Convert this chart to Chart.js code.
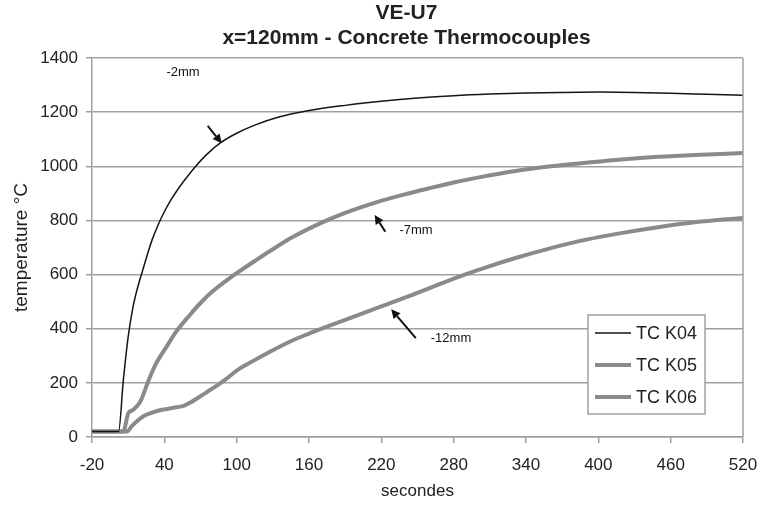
<!DOCTYPE html>
<html>
<head>
<meta charset="utf-8">
<script src="https://cdn.jsdelivr.net/npm/chart.js@4.4.1/dist/chart.umd.min.js"></script>
<style>
  html, body { margin: 0; padding: 0; background: #fff; }
  #wrap { width: 760px; height: 506px; }
</style>
</head>
<body>
<div id="wrap"><canvas id="chart"></canvas></div>
<script>
// --- data ---
const titleLines = ['VE-U7', 'x=120mm - Concrete Thermocouples'];
const xTicks = [-20, 40, 100, 160, 220, 280, 340, 400, 460, 520];
const yTicks = [0, 200, 400, 600, 800, 1000, 1200, 1400];

const k04X = [-20, 2, 6, 10, 14, 18, 22, 26, 30, 35, 40, 45, 50, 57, 65, 75, 87, 100, 115, 135, 160, 190, 220, 250, 280, 310, 340, 370, 400, 430, 460, 490, 520];
const k04Y = [20, 20, 210, 370, 480, 555, 615, 675, 730, 785, 832, 872, 907, 950, 995, 1043, 1088, 1122, 1152, 1182, 1206, 1225, 1240, 1252, 1261, 1267, 1271, 1273, 1274, 1273, 1270, 1266, 1262];

const k05X = [-20, 6, 10, 14, 20, 27, 33, 42, 50, 61, 70, 80, 90, 100, 115, 128, 145, 171, 190, 215, 240, 259, 280, 302, 330, 361, 390, 419, 450, 480, 520];
const k05Y = [20, 20, 87, 100, 130, 210, 270, 335, 390, 450, 495, 538, 573, 605, 650, 688, 735, 793, 828, 866, 897, 918, 940, 960, 982, 1000, 1013, 1025, 1035, 1042, 1049];

const k06X = [-20, 9, 13, 17, 22, 28, 34, 40, 45, 50, 56, 62, 68, 75, 82, 90, 100, 110, 128, 144, 160, 171, 190, 215, 244, 260, 283, 305, 332, 360, 390, 420, 448, 480, 520];
const k06Y = [20, 20, 40, 57, 75, 87, 96, 102, 106, 110, 115, 128, 145, 165, 185, 210, 245, 272, 316, 352, 382, 401, 433, 474, 522, 550, 590, 624, 662, 697, 729, 754, 774, 793, 809];

// annotations (in data units): label, text anchor, arrow tail, arrow head
const notes = [
    { text: '-2mm',  tx: 55.5, ty: 1345, align: 'center', ax: 76,    ay: 1149, hx: 87.6,  hy: 1085 },
    { text: '-7mm',  tx: 235,  ty: 762,  align: 'left',   ax: 223.3, ay: 758,  hx: 214.5, hy: 820 },
    { text: '-12mm', tx: 261,  ty: 363,  align: 'left',   ax: 248.6, ay: 365,  hx: 228.2, hy: 472 }
];

const FONT = "'Liberation Sans', Arial, sans-serif";
const TXT = '#222';
const GRID = '#a0a0a0';
const GREY = '#8a8a8a';

function pts(xs, ys) {
    return xs.map((x, i) => ({ x: x, y: ys[i] }));
}

// Titre centré sur la zone de tracé, flèches + textes, bordure droite, légende encadrée
const extras = {
    id: 'extras',
    afterDatasetsDraw(chart) {
        const ctx = chart.ctx;
        const xs = chart.scales.x, ys = chart.scales.y;
        const a = chart.chartArea;

        ctx.save();
        // titre
        ctx.fillStyle = TXT;
        ctx.font = 'bold 21px ' + FONT;
        ctx.textAlign = 'center';
        ctx.textBaseline = 'middle';
        titleLines.forEach((t, i) => {
            ctx.fillText(t, (a.left + a.right) / 2 - 11, 13 + i * 25);
        });

        // bordure droite
        ctx.strokeStyle = GRID;
        ctx.lineWidth = 1.5;
        ctx.beginPath();
        ctx.moveTo(a.right, a.top);
        ctx.lineTo(a.right, a.bottom);
        ctx.stroke();

        // annotations
        ctx.fillStyle = '#111';
        ctx.strokeStyle = '#111';
        ctx.font = '13px ' + FONT;
        notes.forEach(n => {
            ctx.textAlign = n.align;
            ctx.fillText(n.text, xs.getPixelForValue(n.tx), ys.getPixelForValue(n.ty));
            const x0 = xs.getPixelForValue(n.ax), y0 = ys.getPixelForValue(n.ay);
            const x1 = xs.getPixelForValue(n.hx), y1 = ys.getPixelForValue(n.hy);
            const ang = Math.atan2(y1 - y0, x1 - x0);
            const L = 9, W = 4.5;
            const bx = x1 - L * Math.cos(ang), by = y1 - L * Math.sin(ang);
            ctx.lineWidth = 2;
            ctx.beginPath();
            ctx.moveTo(x0, y0);
            ctx.lineTo(bx, by);
            ctx.stroke();
            ctx.beginPath();
            ctx.moveTo(x1, y1);
            ctx.lineTo(bx + W * Math.sin(ang), by - W * Math.cos(ang));
            ctx.lineTo(bx - W * Math.sin(ang), by + W * Math.cos(ang));
            ctx.closePath();
            ctx.fill();
        });

        // légende
        const bw = 117, bh = 99;
        const lx = a.right - 38 - bw, ly = a.bottom - 23 - bh;
        ctx.fillStyle = '#fff';
        ctx.fillRect(lx, ly, bw, bh);
        ctx.strokeStyle = GRID;
        ctx.lineWidth = 1.5;
        ctx.strokeRect(lx, ly, bw, bh);
        ctx.font = '18px ' + FONT;
        ctx.textAlign = 'left';
        ctx.fillStyle = TXT;
        chart.data.datasets.forEach((ds, i) => {
            const cy = ly + 18 + i * 32;
            ctx.strokeStyle = ds.borderColor;
            ctx.lineWidth = ds.borderWidth;
            ctx.beginPath();
            ctx.moveTo(lx + 7, cy);
            ctx.lineTo(lx + 43, cy);
            ctx.stroke();
            ctx.fillText(ds.label, lx + 48, cy + 1);
        });
        ctx.restore();
    }
};

new Chart(document.getElementById('chart'), {
    type: 'line',
    data: {
        datasets: [
            { label: 'TC K04', data: pts(k04X, k04Y), borderColor: '#151515', borderWidth: 1.5 },
            { label: 'TC K05', data: pts(k05X, k05Y), borderColor: GREY, borderWidth: 4 },
            { label: 'TC K06', data: pts(k06X, k06Y), borderColor: GREY, borderWidth: 4 }
        ]
    },
    options: {
        responsive: true,
        maintainAspectRatio: false,
        animation: false,
        layout: { padding: { top: 58, right: 17, left: 0, bottom: 0 } },
        elements: {
            point: { radius: 0 },
            line: { cubicInterpolationMode: 'monotone', fill: false }
        },
        plugins: {
            legend: { display: false },
            tooltip: { enabled: false },
            title: { display: false }
        },
        scales: {
            x: {
                type: 'linear',
                min: -20,
                max: 520,
                afterBuildTicks: s => { s.ticks = xTicks.map(v => ({ value: v })); },
                afterFit: s => { s.height = 69; s.paddingLeft = 0; s.paddingRight = 0; },
                ticks: { color: TXT, font: { family: FONT, size: 17 }, padding: 12, maxRotation: 0, autoSkip: false },
                grid: { drawOnChartArea: false, drawTicks: true, tickLength: 6, color: GRID, lineWidth: 1.5 },
                border: { color: GRID, width: 1.5 },
                title: { display: true, text: 'secondes', color: TXT, font: { family: FONT, size: 17 }, padding: { top: 2 } }
            },
            y: {
                min: 0,
                max: 1400,
                afterBuildTicks: s => { s.ticks = yTicks.map(v => ({ value: v })); },
                afterFit: s => { s.width = 92; },
                ticks: { color: TXT, font: { family: FONT, size: 17 }, padding: 8, callback: v => String(v) },
                grid: { color: GRID, lineWidth: 1.5, tickLength: 6 },
                border: { color: GRID, width: 1.5 },
                title: { display: true, text: 'temperature °C', color: TXT, font: { family: FONT, size: 19 }, padding: { top: 10, bottom: 0 } }
            }
        }
    },
    plugins: [extras]
});
</script>
</body>
</html>
